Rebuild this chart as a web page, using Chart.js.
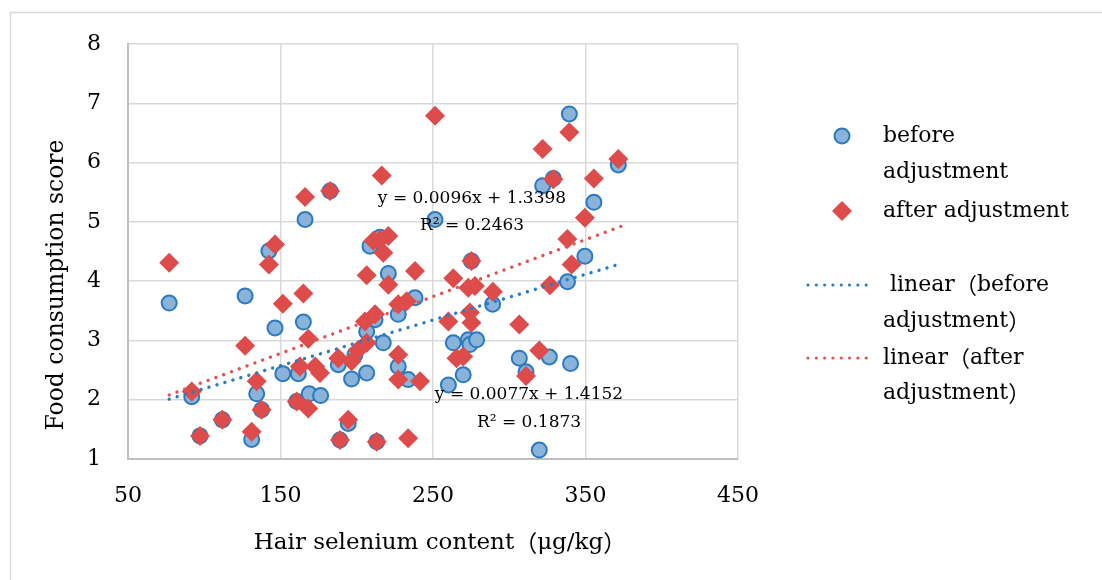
<!DOCTYPE html>
<html><head><meta charset="utf-8">
<script src="https://cdn.jsdelivr.net/npm/chart.js@4.4.1/dist/chart.umd.min.js"></script>
<style>html,body{margin:0;padding:0;background:#fff;}#wrap{width:1102px;height:580px;}</style>
</head><body><div id="wrap"><canvas id="c" width="1102" height="580"></canvas></div>
<script>
// ---- data ----
const beforeX = [77.0,91.8,97.2,111.9,126.8,131.1,134.4,137.6,142.4,146.4,151.5,160.6,161.7,165.0,166.1,168.8,176.3,182.5,187.9,189.0,194.4,196.6,198.8,206.5,206.5,208.7,212.0,213.1,215.2,217.4,220.7,227.2,227.2,233.7,238.2,251.3,260.1,263.3,269.8,273.1,274.2,275.2,278.6,289.1,306.6,311.0,319.7,321.9,326.3,328.9,338.2,339.4,340.2,349.6,355.5,371.5];
const beforeY = [3.63,2.05,1.39,1.66,3.75,1.33,2.10,1.83,4.51,3.21,2.44,1.97,2.44,3.31,5.04,2.10,2.07,5.52,2.59,1.32,1.60,2.35,2.76,3.15,2.45,4.59,3.35,1.29,4.74,2.96,4.13,3.44,2.56,2.34,3.72,5.04,2.25,2.96,2.42,3.01,2.93,4.34,3.01,3.61,2.70,2.47,1.15,5.61,2.72,5.73,3.99,6.82,2.61,4.42,5.33,5.96];
const afterX = [77.0,91.8,97.2,111.9,126.8,131.1,134.4,137.6,142.4,146.4,151.5,160.6,162.7,165.0,166.1,168.2,168.2,172.8,175.9,182.5,187.9,189.0,194.4,196.6,200.9,205.4,206.5,206.5,210.9,212.0,213.1,215.2,216.4,217.4,220.7,220.7,227.2,227.2,227.2,232.7,233.7,238.2,241.5,251.3,260.1,263.3,265.4,269.8,273.1,274.2,275.2,275.2,277.5,289.3,306.6,311.0,319.7,321.9,326.7,328.9,338.1,339.4,340.9,349.6,355.5,371.5];
const afterY = [4.31,2.14,1.39,1.66,2.91,1.46,2.31,1.83,4.28,4.62,3.62,1.97,2.56,3.79,5.42,3.03,1.85,2.56,2.45,5.52,2.70,1.32,1.66,2.65,2.84,3.32,2.96,4.10,4.68,3.44,1.29,4.70,5.78,4.48,4.76,3.94,3.61,2.76,2.34,3.66,1.35,4.17,2.31,6.79,3.32,4.05,2.70,2.73,3.89,3.47,3.30,4.34,3.92,3.82,3.27,2.40,2.83,6.23,3.93,5.72,4.71,6.51,4.28,5.07,5.73,6.06];
const trendBeforeX = [77, 374];
const trendBeforeY = [2.01, 4.30];
const trendAfterX = [77, 374];
const trendAfterY = [2.08, 4.93];
const xTicks = [50,150,250,350,450];
const yTicks = [1,2,3,4,5,6,7,8];
const xTitle = 'Hair selenium content（μg/kg）';
const yTitle = 'Food consumption score';
const eqAfter = ['y = 0.0096x + 1.3398', 'R² = 0.2463'];
const eqBefore = ['y = 0.0077x + 1.4152', 'R² = 0.1873'];
const legendItems = [
  {type:'before', lines:['before','adjustment']},
  {type:'after', lines:['after adjustment']},
  {type:'tBefore', lines:[' linear（before','adjustment）']},
  {type:'tAfter', lines:['linear（after','adjustment）']}
];

// ---- styles ----
const FONT = 'DejaVu Serif';
const CJK = 'Noto Sans CJK SC';
const BLUE_FILL = '#8ab3da', BLUE_EDGE = '#2b79c0';
const RED = '#de4b4b';
const TBLUE = '#2a7bc6', TRED = '#e05252';

const pts = (xs, ys) => xs.map((x, i) => ({x, y: ys[i]}));

Chart.defaults.font.family = FONT;
Chart.defaults.color = '#000';

// draw text, rendering full-width brackets with a CJK font (as in the original)
function mixedText(c, text, x, y, size, align) {
  const segs = [];
  for (const ch of text) {
    const wide = ch === '（' || ch === '）';
    const last = segs[segs.length - 1];
    if (last && last.wide === wide) last.t += ch; else segs.push({t: ch, wide});
  }
  let total = 0;
  segs.forEach(s => {
    c.font = size + 'px "' + (s.wide ? CJK : FONT) + '"';
    s.w = c.measureText(s.t).width; total += s.w;
  });
  let cx = align === 'center' ? x - total / 2 : x;
  c.textAlign = 'left';
  segs.forEach(s => {
    c.font = size + 'px "' + (s.wide ? CJK : FONT) + '"';
    c.fillText(s.t, cx, y); cx += s.w;
  });
}

const deco = {
  id: 'deco',
  beforeDraw(chart) {
    const c = chart.ctx;
    c.save();
    c.fillStyle = '#fff';
    c.fillRect(0, 0, chart.width, chart.height);
    c.strokeStyle = '#d9d9d9';
    c.lineWidth = 1.5;
    c.strokeRect(10.5, 12.5, 1300, 800);
    c.restore();
  },
  afterDraw(chart) {
    const c = chart.ctx;
    c.save();
    c.fillStyle = '#000';
    c.textBaseline = 'middle';
    // axis titles
    mixedText(c, xTitle, 440, 543, 23, 'center');
    c.save();
    c.translate(57, 285);
    c.rotate(-Math.PI / 2);
    c.textAlign = 'center';
    c.font = '23.5px "' + FONT + '"';
    c.fillText(yTitle, 0, 0);
    c.restore();
    // equations
    c.textAlign = 'center';
    c.font = '17px "' + FONT + '"';
    c.fillText(eqAfter[0], 472, 199);
    c.fillText(eqAfter[1], 472, 226);
    c.fillText(eqBefore[0], 529, 395);
    c.fillText(eqBefore[1], 529, 423);
    // legend
    const rows = [[136, 172], [211], [285, 321], [358, 393]];
    legendItems.forEach((it, i) => {
      const ry = rows[i];
      const my = ry[0];
      if (it.type === 'before') {
        c.beginPath(); c.arc(842, my, 7.5, 0, Math.PI * 2);
        c.fillStyle = BLUE_FILL; c.fill();
        c.lineWidth = 2; c.strokeStyle = BLUE_EDGE; c.stroke();
      } else if (it.type === 'after') {
        c.beginPath(); c.moveTo(832, my); c.lineTo(842, my - 10); c.lineTo(852, my); c.lineTo(842, my + 10); c.closePath();
        c.fillStyle = RED; c.fill();
      } else {
        c.beginPath(); c.moveTo(808, my); c.lineTo(874, my);
        c.lineWidth = 3.2; c.lineCap = 'round'; c.setLineDash([0.01, 8.3]);
        c.strokeStyle = it.type === 'tBefore' ? TBLUE : TRED; c.stroke();
        c.setLineDash([]); c.lineCap = 'butt';
      }
      c.fillStyle = '#000';
      it.lines.forEach((t, j) => mixedText(c, t, 883, ry[j], 22, 'left'));
    });
    c.restore();
  }
};

new Chart(document.getElementById('c'), {
  type: 'scatter',
  data: {
    datasets: [
      {label: 'linear（before adjustment）', type: 'line', data: pts(trendBeforeX, trendBeforeY), order: 0,
       borderColor: TBLUE, borderWidth: 3.4, borderDash: [0.01, 8.3], borderCapStyle: 'round', pointRadius: 0, fill: false},
      {label: 'linear（after adjustment）', type: 'line', data: pts(trendAfterX, trendAfterY), order: 0,
       borderColor: TRED, borderWidth: 3.4, borderDash: [0.01, 8.3], borderCapStyle: 'round', pointRadius: 0, fill: false},
      {label: 'after adjustment', data: pts(afterX, afterY), order: 1, pointStyle: 'rectRot', pointRadius: 10,
       backgroundColor: RED, borderColor: RED, borderWidth: 0},
      {label: 'before adjustment', data: pts(beforeX, beforeY), order: 2, pointStyle: 'circle', pointRadius: 7.5,
       backgroundColor: BLUE_FILL, borderColor: BLUE_EDGE, borderWidth: 2}
    ]
  },
  options: {
    responsive: false, animation: false, devicePixelRatio: 1,
    layout: {padding: {left: 0, top: 44, right: 1102 - 738, bottom: 0}},
    plugins: {legend: {display: false}, tooltip: {enabled: false}},
    scales: {
      x: {type: 'linear', min: 50, max: 450,
          afterBuildTicks: s => { s.ticks = xTicks.map(v => ({value: v})); },
          afterFit: s => { s.height = 121; },
          ticks: {font: {size: 22}, color: '#000', padding: 24},
          grid: {color: '#d9d9d9', lineWidth: 1.5, drawTicks: false},
          border: {color: '#bfbfbf', width: 2}},
      y: {type: 'linear', min: 1, max: 8,
          afterBuildTicks: s => { s.ticks = yTicks.map(v => ({value: v})); },
          afterFit: s => { s.width = 128; },
          ticks: {font: {size: 22}, color: '#000', padding: 27},
          grid: {color: '#d9d9d9', lineWidth: 1.5, drawTicks: false},
          border: {color: '#bfbfbf', width: 2}}
    }
  },
  plugins: [deco]
});
</script></body></html>
